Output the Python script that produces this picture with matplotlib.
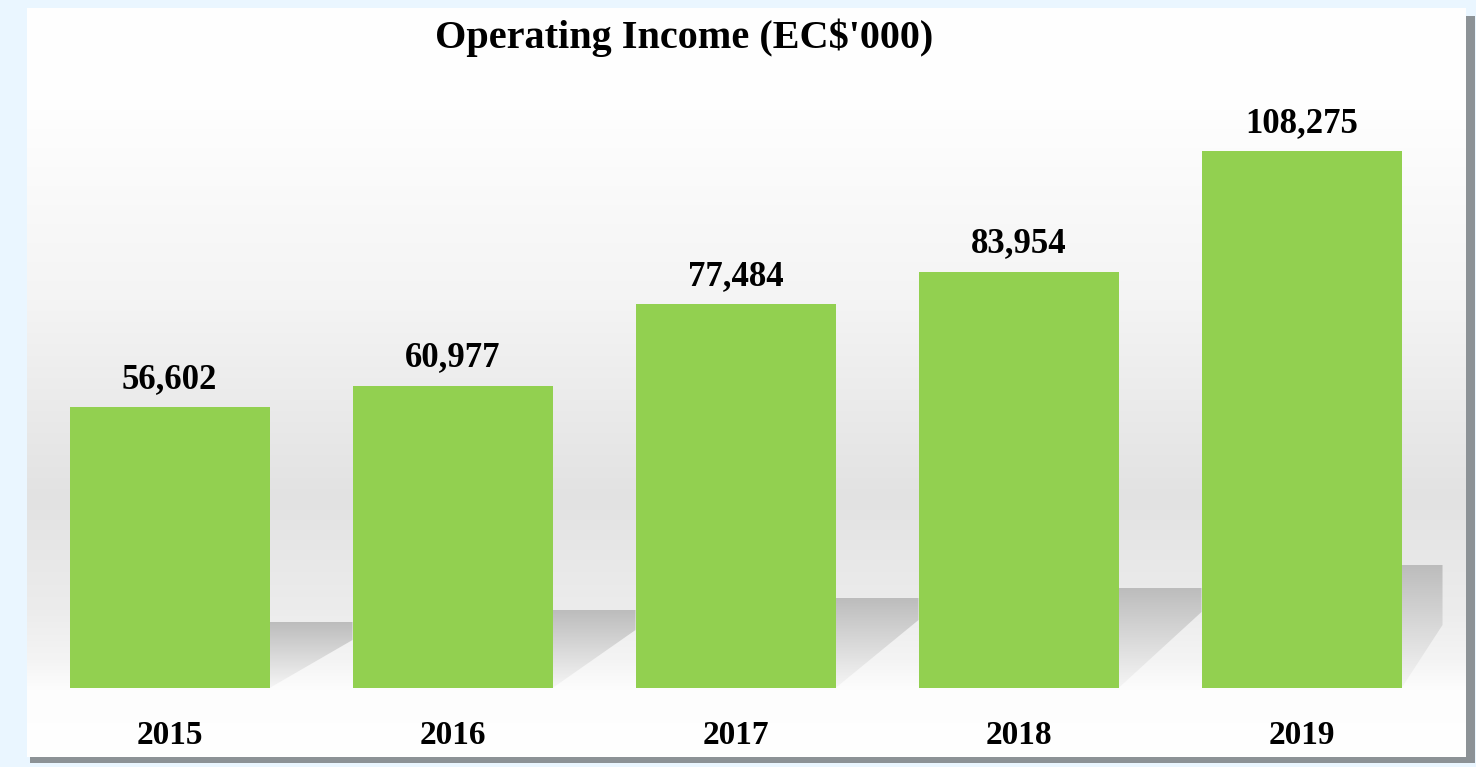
import numpy as np
import matplotlib
matplotlib.use("Agg")
import matplotlib.pyplot as plt
from matplotlib.patches import Rectangle, Polygon

# data
years = ["2015", "2016", "2017", "2018", "2019"]
income = [56602, 60977, 77484, 83954, 108275]
title = "Operating Income (EC$'000)"

W, H = 1476, 767
fig = plt.figure(figsize=(W / 100, H / 100), dpi=100)
fig.patch.set_facecolor("#EAF6FF")

# panel shadow (pixel coords)
pl, pr, pt, pb = 27, 1466, 8, 757
fig.patches.append(Rectangle(((pl + 3) / W, (H - pb - 6) / H), (pr - pl + 6) / W, (pb - pt - 2) / H,
                             transform=fig.transFigure, facecolor="#8C9296", edgecolor="none", zorder=-5))
ax = fig.add_axes([pl / W, (H - pb) / H, (pr - pl) / W, (pb - pt) / H])

# scales
px_per_unit = 283.0
val_per_px = 201.6
zero_px = 688
c0 = 169.5
x_lo = -(c0 - pl) / px_per_unit
x_hi = 4 + (pr - (c0 + 4 * px_per_unit)) / px_per_unit
y_hi = (zero_px - pt) * val_per_px
y_lo = -(pb - zero_px) * val_per_px

def py(p):
    return (zero_px - p) * val_per_px

# background gradient
rows = np.arange(pt, pb + 1)
g = np.interp(rows, [pt, 110, 300, 500, 560, 610, 660, 690, pb],
              [255, 254, 244, 226, 232, 236, 244, 253, 255])
img = np.repeat(g[:, None], 2, axis=1) / 255.0
ax.imshow(np.dstack([img, img, img]), extent=[x_lo, x_hi, y_lo, y_hi], origin="upper",
          aspect="auto", zorder=0, interpolation="bilinear")

bw = 200 / px_per_unit
x = np.arange(len(years))

# floor shadows to the right of each bar
tops = [622, 610, 598, 588, 565]
widths = [83, 83, 83, 83, 41]
drops = [18, 20, 22, 24, 60]
for i in range(len(years)):
    x0 = x[i] + bw / 2
    x1 = x0 + widths[i] / px_per_unit
    yt = py(tops[i])
    poly = Polygon([(x0, yt), (x1, yt), (x1, py(tops[i] + drops[i])), (x0, py(688))],
                   closed=True, facecolor="none", edgecolor="none")
    ax.add_patch(poly)
    grad = np.linspace(0.74, 0.96, 50)[:, None]
    sh = ax.imshow(np.dstack([grad, grad, grad]), extent=[x0, x1, py(688), yt], origin="upper",
                   aspect="auto", zorder=1, interpolation="bilinear")
    sh.set_clip_path(poly)

ax.set_xlim(x_lo, x_hi)
ax.set_ylim(y_lo, y_hi)
ax.bar(x, income, width=bw, color="#92D050", edgecolor="none", zorder=2)

for xi, v in zip(x, income):
    ax.text(xi, v + 11 * val_per_px, f"{v:,}", ha="center", va="bottom",
            fontsize=25, fontweight="bold", family="Liberation Serif", zorder=3)
for xi, yr in zip(x, years):
    ax.text(xi, py(735), yr, ha="center", va="center",
            fontsize=24, fontweight="bold", family="Liberation Serif", zorder=3)

fig.text(684 / W, 1 - 38 / H, title, ha="center", va="center",
         fontsize=29, fontweight="bold", family="Liberation Serif")

ax.set_axis_off()
fig.savefig("out.png", dpi=100, facecolor=fig.get_facecolor())
